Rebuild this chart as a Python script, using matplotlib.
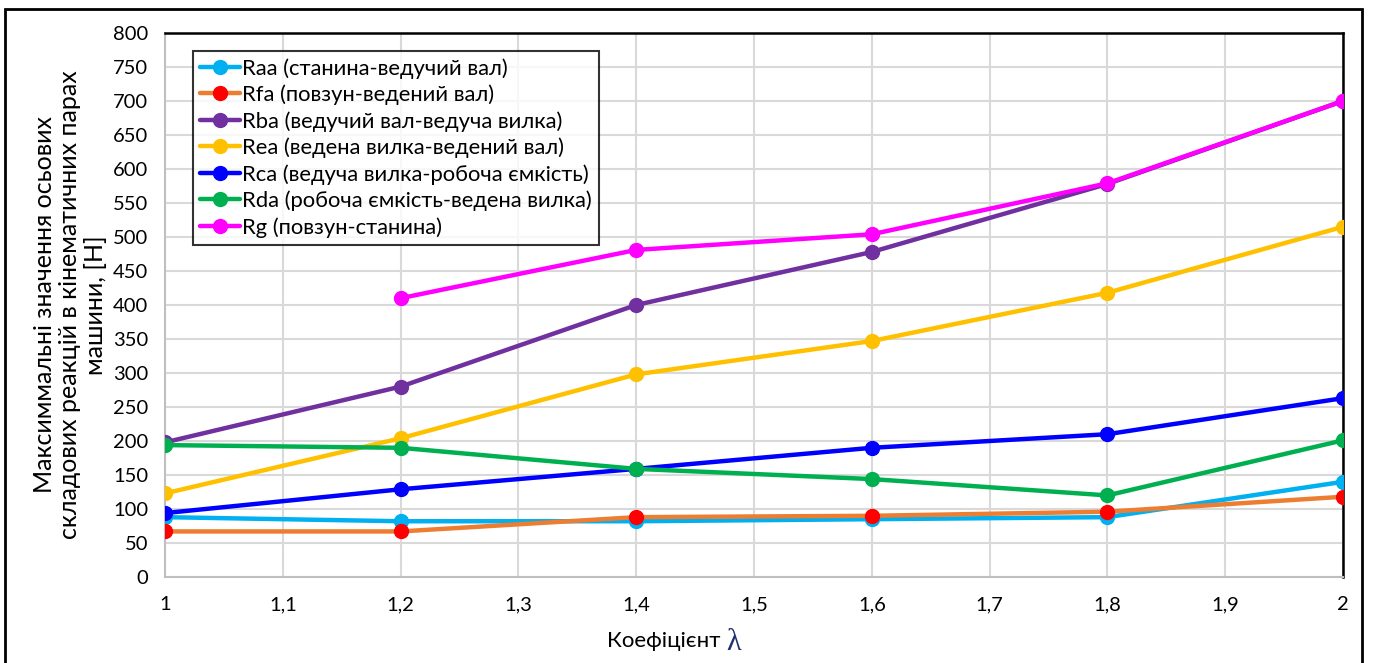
import matplotlib
matplotlib.use("Agg")
import matplotlib.pyplot as plt
from matplotlib.patches import Rectangle
import numpy as np

# Coefficient lambda values
lam = [1.0, 1.2, 1.4, 1.6, 1.8, 2.0]

# Maximum axial reaction components, N
raa = [88, 82, 82, 85, 88, 140]
rfa = [67, 67, 88, 90, 96, 118]
rba = [198, 280, 400, 478, 578, 700]
rea = [123, 204, 298, 347, 418, 515]
rca = [94, 129, 159, 190, 210, 263]
rda = [194, 190, 159, 144, 120, 201]
rg_lam = [1.2, 1.4, 1.6, 1.8, 2.0]
rg = [410, 481, 504, 579, 700]

labels = [
    "Raa (станина-ведучий вал)",
    "Rfa (повзун-ведений вал)",
    "Rba (ведучий вал-ведуча вилка)",
    "Rea (ведена вилка-ведений вал)",
    "Rca (ведуча вилка-робоча ємкість)",
    "Rda (робоча ємкість-ведена вилка)",
    "Rg (повзун-станина)",
]
xticks = [1.0, 1.1, 1.2, 1.3, 1.4, 1.5, 1.6, 1.7, 1.8, 1.9, 2.0]
xtick_labels = ["1", "1,1", "1,2", "1,3", "1,4", "1,5", "1,6", "1,7", "1,8", "1,9", "2"]
yticks = list(range(0, 801, 50))

plt.rcParams["font.family"] = ["Lato", "DejaVu Sans"]

W, H = 1373, 663
fig = plt.figure(figsize=(W / 100, H / 100), dpi=100)
ax = fig.add_axes([165 / W, 1 - 577 / H, (1343 - 165) / W, (577 - 33) / H])

series = [
    (lam, raa, "#00B0F0", "#00B0F0"),
    (lam, rfa, "#ED7D31", "#FF0000"),
    (lam, rba, "#7030A0", "#7030A0"),
    (lam, rea, "#FFC000", "#FFC000"),
    (lam, rca, "#0000FF", "#0000FF"),
    (lam, rda, "#00B050", "#00B050"),
    (rg_lam, rg, "#FF00FF", "#FF00FF"),
]
for (xs, ys, lc, mc), lab in zip(series, labels):
    ax.plot(xs, ys, color=lc, lw=3.2, marker="o", markersize=10,
            markerfacecolor=mc, markeredgecolor=mc, label=lab, zorder=3,
            solid_capstyle="round")

ax.set_xlim(1.0, 2.0)
ax.set_ylim(0, 800)
ax.set_xticks(xticks)
ax.set_xticklabels(xtick_labels)
ax.set_yticks(yticks)
ax.tick_params(axis="both", length=0, labelsize=14.5, colors="#000000")
ax.tick_params(axis="x", pad=14)
ax.tick_params(axis="y", pad=12)
ax.grid(True, color="#D9D9D9", lw=1.5, zorder=0)
ax.set_axisbelow(True)

for side in ("left", "bottom"):
    ax.spines[side].set_color("#BFBFBF")
    ax.spines[side].set_linewidth(1.5)
for side in ("top", "right"):
    ax.spines[side].set_color("#000000")
    ax.spines[side].set_linewidth(1.8)

leg = ax.legend(loc="upper left", bbox_to_anchor=(0.024, 0.967), fontsize=15.8,
                frameon=True, fancybox=False, edgecolor="#000000",
                handlelength=1.8, handletextpad=0.1, borderpad=0.32,
                labelspacing=0.27, borderaxespad=0)
leg.get_frame().set_linewidth(1.5)

fig.text(70 / W, 1 - 305 / H,
         "Максиммальні значення осьових\nскладових реакцій в кінематичних парах\nмашини, [Н]",
         rotation=90, ha="center", va="center", multialignment="center",
         fontsize=18, linespacing=1.14)

xl = fig.text(667 / W, 1 - 641 / H, "Коефіцієнт ", ha="center", va="center",
              fontsize=16)
ax.annotate("λ", xy=(1.0, 0.42), xycoords=xl, ha="left", va="center",
            fontsize=22, family="Liberation Serif", color="#1F2F6F",
            annotation_clip=False)

# outer frame around the chart area
fig.add_artist(Rectangle((5 / W, -0.02), (1362 - 5) / W, 1 - 9 / H + 0.02,
                         transform=fig.transFigure, fill=False,
                         edgecolor="#000000", lw=2))

fig.savefig("out.png", dpi=100)
